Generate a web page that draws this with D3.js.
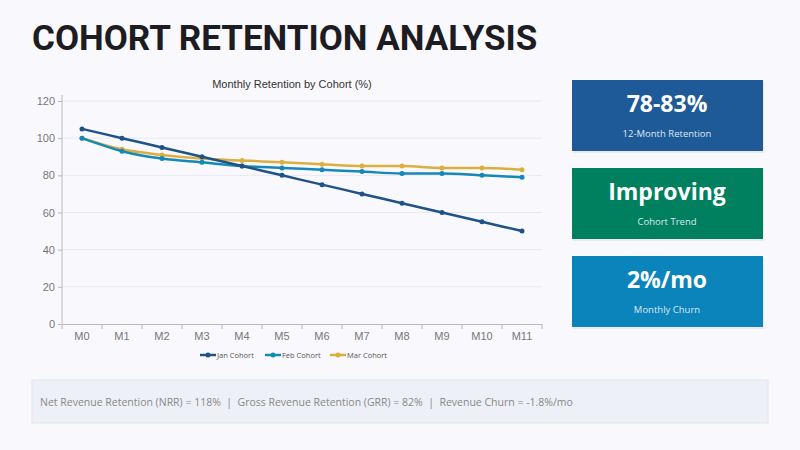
<!DOCTYPE html><html><head><meta charset="utf-8">
<script src="https://cdn.jsdelivr.net/npm/d3@7"></script>
<style>body{margin:0;background:#f9f9fd;font-family:"Open Sans",sans-serif}</style></head>
<body><svg id="c" width="800" height="450"></svg>
<script>
const months=["M0","M1","M2","M3","M4","M5","M6","M7","M8","M9","M10","M11"];
const janCohort=[105,100,95,90,85,80,75,70,65,60,55,50];
const febCohort=[100,93,89,87,85,84,83,82,81,81,80,79];
const marCohort=[100,94,91,89,88,87,86,85,85,84,84,83];
const seriesNames=["Jan Cohort","Feb Cohort","Mar Cohort"];
const seriesColors=["#1f5286","#1589b5","#dcae3f"];
const yTicks=[0,20,40,60,80,100,120];
const cards=[["78-83%","12-Month Retention","#1d5a97"],["Improving","Cohort Trend","#00805f"],["2%/mo","Monthly Churn","#0a84ba"]];
const footer="Net Revenue Retention (NRR) = 118%  |  Gross Revenue Retention (GRR) = 82%  |  Revenue Churn = -1.8%/mo";

const svg=d3.select("#c");
svg.append("rect").attr("width",800).attr("height",450).attr("fill","#f9f9fd");
svg.append("text").attr("x",32).attr("y",50).text("COHORT RETENTION ANALYSIS")
 .attr("font-family","Roboto,Inter,sans-serif").attr("font-weight",700).attr("font-size",35).attr("fill","#1c1c22");
svg.append("text").attr("x",292).attr("y",88).attr("text-anchor","middle").text("Monthly Retention by Cohort (%)")
 .attr("font-family","Liberation Sans,Arial").attr("font-size",11).attr("fill","#333");
const x=d3.scaleBand().domain(months).range([62,542]);
const y=d3.scaleLinear().domain([0,120]).range([324,101]);
const g=svg.append("g");
g.selectAll(".grid").data(yTicks.slice(1)).join("line").attr("x1",62).attr("x2",542)
 .attr("y1",d=>y(d)).attr("y2",d=>y(d)).attr("stroke","#e8e8ef");
const ya=g.append("g").attr("transform","translate(62,0)").call(d3.axisLeft(y).tickValues(yTicks).tickSize(4));
const xa=g.append("g").attr("transform","translate(0,324)").call(d3.axisBottom(x).tickSize(0).tickPadding(8));
xa.selectAll(".tickline").remove();
xa.selectAll(".bt").data(d3.range(13)).join("line").attr("x1",d=>62+d*40).attr("x2",d=>62+d*40).attr("y1",0).attr("y2",5).attr("stroke","#bbb");
[ya,xa].forEach(a=>{a.selectAll("path,line").attr("stroke","#bbb");a.selectAll("text").attr("fill","#777").attr("font-family","Liberation Sans,Arial").attr("font-size",11);});
ya.select(".domain").remove(); g.append("line").attr("x1",62).attr("x2",62).attr("y1",95).attr("y2",324).attr("stroke","#bbb");
const data=[janCohort,febCohort,marCohort];
const line=d3.line().x((d,i)=>x(months[i])+x.bandwidth()/2).y(d=>y(d)).curve(d3.curveMonotoneX);
[2,1,0].forEach(k=>{
 g.append("path").attr("d",line(data[k])).attr("fill","none").attr("stroke",seriesColors[k]).attr("stroke-width",2.5);
 g.selectAll(".p"+k).data(data[k]).join("circle").attr("cx",(d,i)=>x(months[i])+20).attr("cy",d=>y(d)).attr("r",2.5).attr("fill",seriesColors[k]);
});
const lg=svg.append("g");
const lx=[200,265,330];
seriesNames.forEach((n,i)=>{
 lg.append("line").attr("x1",lx[i]).attr("x2",lx[i]+16).attr("y1",355).attr("y2",355).attr("stroke",seriesColors[i]).attr("stroke-width",2.5);
 lg.append("circle").attr("cx",lx[i]+8).attr("cy",355).attr("r",2.5).attr("fill",seriesColors[i]);
 lg.append("text").attr("x",lx[i]+17).attr("y",358).text(n).attr("font-size",7.5).attr("fill","#555");
});
cards.forEach((c,i)=>{
 const cy=80+i*88;
 svg.append("rect").attr("x",573).attr("y",cy+2).attr("width",191).attr("height",71).attr("fill","#000").attr("opacity",0.06);
 svg.append("rect").attr("x",572).attr("y",cy).attr("width",191).attr("height",71).attr("fill",c[2]);
 svg.append("text").attr("x",667).attr("y",cy+32).attr("text-anchor","middle").text(c[0]).attr("fill","#fff").attr("font-weight",700).attr("font-size",23);
 svg.append("text").attr("x",667).attr("y",cy+57).attr("text-anchor","middle").text(c[1]).attr("fill","#dde8f2").attr("font-size",9.5);
});
svg.append("rect").attr("x",32).attr("y",380).attr("width",736).attr("height",43).attr("fill","#eef0f7").attr("stroke","#e4e6ee");
svg.append("text").attr("x",40).attr("y",406).text(footer).attr("fill","#888").attr("font-size",10.5).attr("xml:space","preserve").style("white-space","pre");
</script></body></html>
